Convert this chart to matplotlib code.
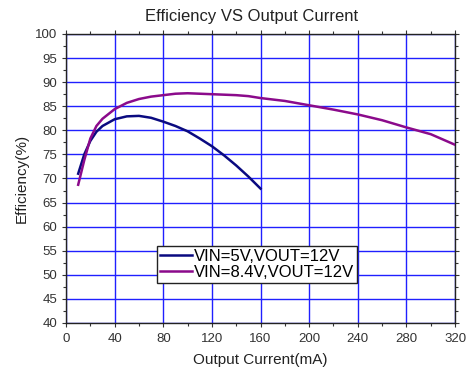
import matplotlib.pyplot as plt
from matplotlib.ticker import MultipleLocator

plt.rcParams['font.family'] = ['Liberation Sans', 'DejaVu Sans']

# VIN = 5V, VOUT = 12V
cur_5v = [10, 15, 20, 25, 30, 40, 50, 60, 70, 80, 90, 100, 110, 120, 130, 140, 150, 160]
eff_5v = [71.0, 75.0, 77.8, 79.7, 80.9, 82.3, 82.9, 83.0, 82.6, 81.8, 80.9, 79.8, 78.3, 76.7, 74.8, 72.7, 70.4, 67.9]

# VIN = 8.4V, VOUT = 12V
cur_84v = [10, 15, 20, 25, 30, 40, 50, 60, 70, 80, 90, 100, 110, 120, 130, 140, 150, 160,
           180, 200, 220, 240, 260, 280, 300, 320]
eff_84v = [68.7, 73.8, 78.3, 80.9, 82.4, 84.4, 85.7, 86.5, 87.0, 87.3, 87.6, 87.7, 87.6, 87.5, 87.4, 87.3, 87.1, 86.7,
           86.1, 85.2, 84.3, 83.3, 82.1, 80.6, 79.2, 77.0]

fig = plt.figure(figsize=(4.75, 3.74), dpi=100)
ax = fig.add_axes([0.139, 0.1364, 0.819, 0.7727])

ax.plot(cur_5v, eff_5v, color='#0a0a80', lw=1.8, label='VIN=5V,VOUT=12V', zorder=3)
ax.plot(cur_84v, eff_84v, color='#8b0a8b', lw=1.8, label='VIN=8.4V,VOUT=12V', zorder=3)

ax.set_xlim(0, 320)
ax.set_ylim(40, 100)
ax.xaxis.set_major_locator(MultipleLocator(40))
ax.xaxis.set_minor_locator(MultipleLocator(20))
ax.yaxis.set_major_locator(MultipleLocator(5))
ax.yaxis.set_minor_locator(MultipleLocator(2.5))

ax.grid(True, which='major', color='#2020ff', lw=1.0)
ax.set_axisbelow(True)

for s in ax.spines.values():
    s.set_color('#222222')
    s.set_linewidth(1.0)

ax.tick_params(which='major', direction='out', length=3, width=0.8, labelsize=9.5,
               colors='#333333', top=True, right=True)
ax.tick_params(which='minor', direction='out', length=2, width=0.8, top=True, right=True,
               colors='#333333')
ax.tick_params(axis='x', which='major', pad=4)

ax.set_title('Efficiency VS Output Current', fontsize=12, color='#222222', pad=9, x=0.478)
ax.set_xlabel('Output Current(mA)', fontsize=11, color='#222222', labelpad=6)
ax.set_ylabel('Efficiency(%)', fontsize=11, color='#222222', labelpad=4)

leg = ax.legend(loc='lower left', bbox_to_anchor=(0.234, 0.138), fontsize=12,
                handlelength=1.9, handletextpad=0.1, borderpad=0.2, labelspacing=0.05,
                fancybox=False, framealpha=1, edgecolor='#222222', borderaxespad=0)
leg.get_frame().set_linewidth(1.0)

fig.savefig('out.png', dpi=100)
